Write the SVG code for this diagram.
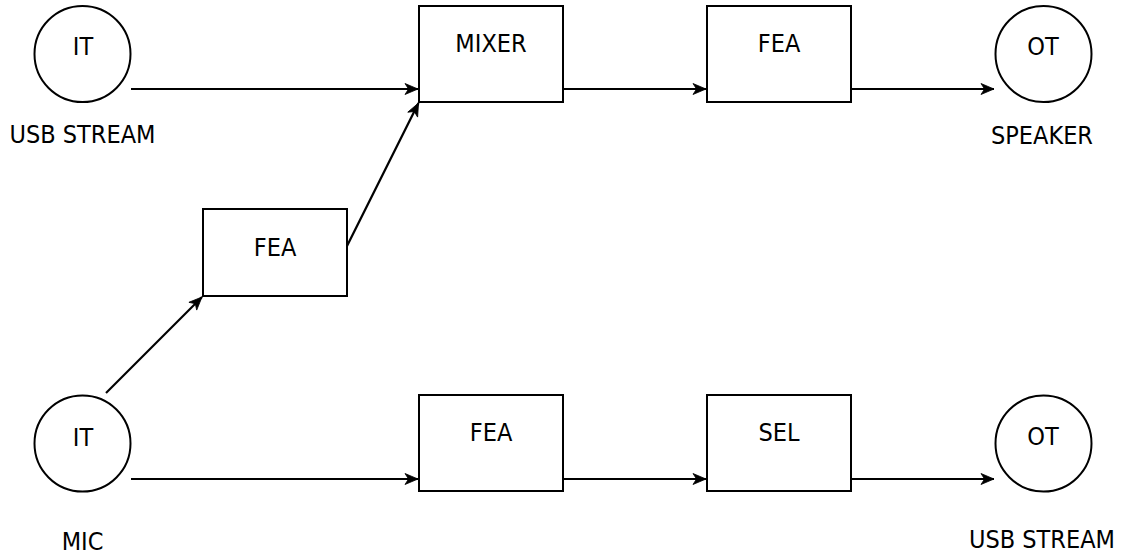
<svg xmlns="http://www.w3.org/2000/svg" width="1122" height="555" viewBox="0 0 1122 555">
<style>
  .shape { fill: #ffffff; stroke: #000000; stroke-width: 2; }
  .circ { fill: #ffffff; stroke: #000000; stroke-width: 2; }
  .lbl { font-family: "DejaVu Sans Condensed", "DejaVu Sans", sans-serif; font-size: 25px; fill: #000000; text-anchor: middle; }
  .edge { fill: none; stroke: #000000; stroke-width: 2.2; marker-end: url(#arrow); }
</style>
<defs>
  <marker id="arrow" markerWidth="16" markerHeight="14" refX="13" refY="6" orient="auto" markerUnits="userSpaceOnUse" overflow="visible">
    <path d="M0,0.5 L13,6 L0,11.5 L3.5,6 Z" fill="#000000" stroke="#000000" stroke-width="0.8" stroke-linejoin="miter"/>
  </marker>
</defs>
<rect width="1122" height="555" fill="#ffffff"/>
<g id="connectors">
  <line class="edge" x1="131" y1="89" x2="418" y2="89"/>
  <line class="edge" x1="106" y1="393" x2="202" y2="297"/>
  <line class="edge" x1="347" y1="246" x2="418.5" y2="103"/>
  <line class="edge" x1="563" y1="89" x2="706" y2="89"/>
  <line class="edge" x1="851" y1="89" x2="994" y2="89"/>
  <line class="edge" x1="131" y1="479" x2="418" y2="479"/>
  <line class="edge" x1="563" y1="479" x2="706" y2="479"/>
  <line class="edge" x1="851" y1="479" x2="994" y2="479"/>
</g>
<g id="it-usb">
  <circle class="circ" cx="82.5" cy="54" r="48"/>
  <text class="lbl" x="83" y="55">IT</text>
  <text class="lbl" x="82.5" y="143">USB STREAM</text>
</g>
<g id="mixer">
  <rect class="shape" x="419" y="6" width="144" height="96"/>
  <text class="lbl" x="491" y="52">MIXER</text>
</g>
<g id="fea-top">
  <rect class="shape" x="707" y="6" width="144" height="96"/>
  <text class="lbl" x="779" y="52">FEA</text>
</g>
<g id="ot-speaker">
  <circle class="circ" cx="1043.5" cy="54" r="48"/>
  <text class="lbl" x="1043" y="55">OT</text>
  <text class="lbl" x="1042" y="144">SPEAKER</text>
</g>
<g id="fea-mid">
  <rect class="shape" x="203" y="209" width="144" height="87"/>
  <text class="lbl" x="275" y="256">FEA</text>
</g>
<g id="it-mic">
  <circle class="circ" cx="82.5" cy="443.5" r="48"/>
  <text class="lbl" x="83" y="446">IT</text>
  <text class="lbl" x="82.5" y="550">MIC</text>
</g>
<g id="fea-bottom">
  <rect class="shape" x="419" y="395" width="144" height="96"/>
  <text class="lbl" x="491" y="441">FEA</text>
</g>
<g id="sel">
  <rect class="shape" x="707" y="395" width="144" height="96"/>
  <text class="lbl" x="779" y="441">SEL</text>
</g>
<g id="ot-usb">
  <circle class="circ" cx="1043.5" cy="443.5" r="48"/>
  <text class="lbl" x="1043" y="445">OT</text>
  <text class="lbl" x="1042" y="548">USB STREAM</text>
</g>
</svg>
